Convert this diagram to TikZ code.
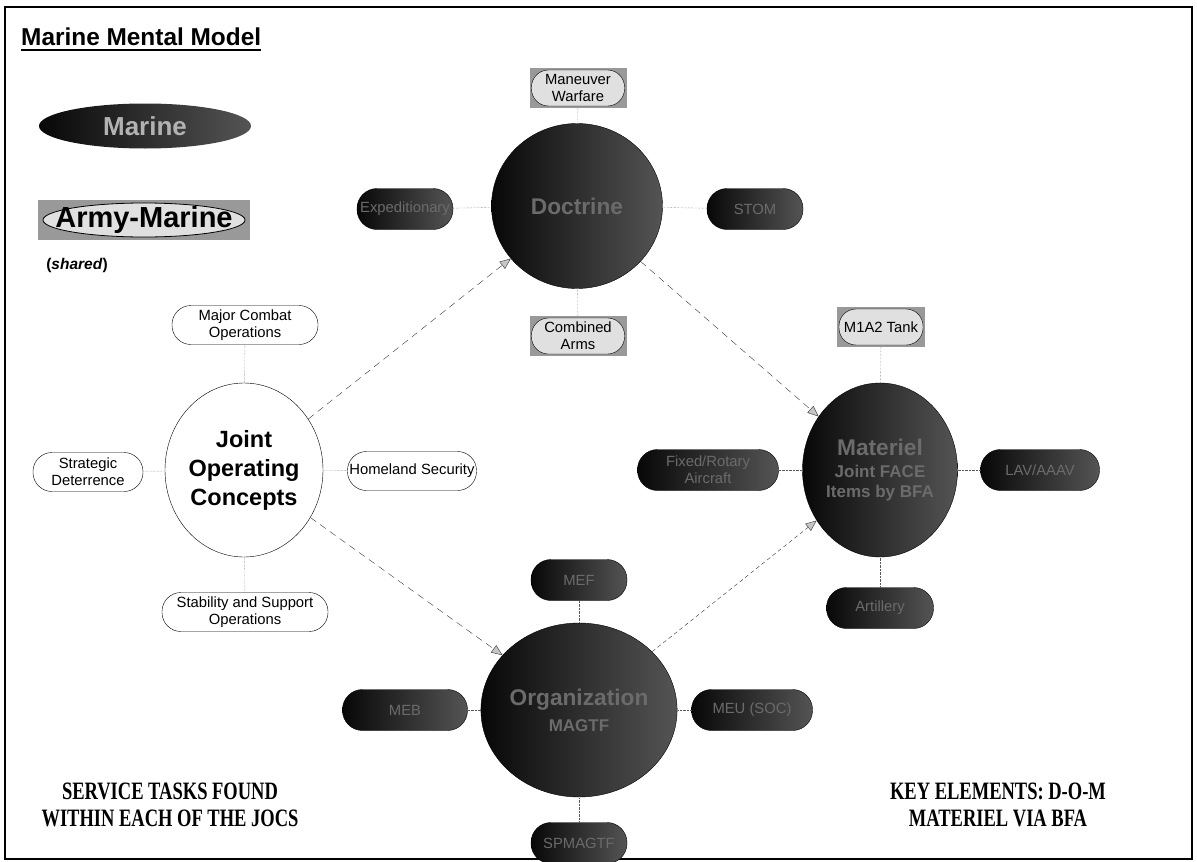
\documentclass[tikz,border=0pt]{standalone}
\usepackage{fontspec}
\setmainfont{Liberation Sans}
\newfontfamily\capserif[FakeStretch=0.74]{Liberation Serif}
\usetikzlibrary{shapes.geometric,arrows.meta}
\definecolor{cBlack}{gray}{0.03}
\definecolor{cShade}{gray}{0.33}
\definecolor{cBox}{gray}{0.6}
\definecolor{cPale}{gray}{0.88}
\definecolor{cLabel}{gray}{0.42}
\definecolor{cGray}{gray}{0.35}
\tikzset{>={Triangle[length=11pt,width=9pt,fill=gray!45]}}

\begin{document}
\begin{tikzpicture}[x=1pt, y=-1pt,
	every node/.style={font=\fontsize{14.8}{17}\selectfont, align=center},
	darkpill/.style={rectangle, rounded corners=20pt, minimum height=41pt, inner sep=2pt, left color=cBlack, right color=cShade, draw=black, text=cLabel},
	whitepill/.style={rectangle, rounded corners=19pt, minimum height=39pt, inner sep=2pt, draw=black, fill=white},
	shadebox/.style={rectangle, minimum height=40pt, inner sep=0pt, fill=cBox},
	lightpill/.style={rectangle, rounded corners=17pt, minimum height=36pt, inner sep=1pt, draw=black, fill=cPale},
	hub/.style={ellipse, inner sep=0pt, draw=black, left color=cBlack, right color=cShade, text=cLabel, font=\bfseries\fontsize{22.7}{26}\selectfont},
	tie/.style={densely dotted, draw=cGray, thin},
	flow/.style={->, draw=black!80, dash pattern=on 7pt off 5pt, thin}]
	\useasboundingbox (0,0) rectangle (1197,862);
	\draw [line width=2pt] (5,7) rectangle (1192,859);
	
	%title and legend
	\node [anchor=base west, inner sep=0pt, font=\bfseries\fontsize{24.4}{28}\selectfont] (title) at (21,45) {Marine Mental Model};
	\draw [line width=2.5pt] ([yshift=-5pt]title.base west) -- ([yshift=-5pt]title.base east);
	\node [ellipse, minimum width=212pt, minimum height=45pt, inner sep=0pt, left color=cBlack, right color=cShade, text=gray!60, font=\bfseries\fontsize{26}{28}\selectfont] (marine) at (145,126) {Marine};
	\node [shadebox, minimum width=212pt] (armybox) at (144,220) {};
	\node [ellipse, draw=black, thick, fill=cPale, minimum width=202pt, minimum height=34pt, inner sep=0pt] (armyring) at (armybox) {};
	\node [font=\bfseries\fontsize{29}{30}\selectfont, inner sep=0pt] (army) at (armyring) {Army-Marine};
	\node [font=\bfseries\fontsize{15.5}{18}\selectfont] (shared) at (77,265) {(\textit{shared})};
	
	%doctrine
	\node [hub, minimum width=171pt, minimum height=165pt] (doc) at (577,206) {Doctrine};
	\node [shadebox, minimum width=97pt] (mwbox) at (578,88) {};
	\node [lightpill, minimum width=93pt] (mw) at (mwbox) {Maneuver\\Warfare};
	\node [shadebox, minimum width=97pt] (cabox) at (578,336) {};
	\node [lightpill, minimum width=93pt] (ca) at (cabox) {Combined\\Arms};
	\node [darkpill, minimum width=96pt] (docL) at (405,209) {Expeditionary};
	\node [darkpill, minimum width=96pt] (docR) at (755,209) {STOM};
	
	%joint operating concepts
	\node [ellipse, draw=black, fill=white, inner sep=0pt, minimum width=158pt, minimum height=174pt, font=\bfseries\fontsize{23.5}{29}\selectfont] (joc) at (244,470) {Joint\\Operating\\Concepts};
	\node [whitepill, minimum width=146pt] (mco) at (245,325) {Major Combat\\Operations};
	\node [whitepill, minimum width=110pt] (sd) at (88,472) {Strategic\\Deterrence};
	\node [whitepill, minimum width=129pt] (hs) at (412,471) {Homeland Security};
	\node [whitepill, minimum width=166pt] (sso) at (245,612) {Stability and Support\\Operations};
	
	%materiel
	\node [hub, minimum width=155pt, minimum height=174pt] (mat) at (880,470) {Materiel\\[-4pt]{\fontsize{17}{20}\selectfont Joint FACE}\\[-6pt]{\fontsize{17}{20}\selectfont Items by BFA}};
	\node [shadebox, minimum width=88pt] (tankbox) at (881,327) {};
	\node [lightpill, minimum width=84pt] (tank) at (tankbox) {M1A2 Tank};
	\node [darkpill, minimum width=141pt] (matL) at (708,470) {Fixed/Rotary\\Aircraft};
	\node [darkpill, minimum width=119pt] (matR) at (1040,470) {LAV/AAAV};
	\node [darkpill, minimum width=107pt] (matB) at (880,608) {Artillery};
	
	%organization
	\node [hub, minimum width=172pt, minimum height=174pt] (org) at (579,710) {Organization\\{\fontsize{17}{20}\selectfont MAGTF}};
	\node [darkpill, minimum width=96pt] (orgT) at (579,580) {MEF};
	\node [darkpill, minimum width=125pt] (orgL) at (405,710) {MEB};
	\node [darkpill, minimum width=121pt] (orgR) at (752,710) {MEU (SOC)};
	\node [darkpill, minimum width=96pt] (orgB) at (579,843) {SPMAGTF};
	
	\foreach \a/\b in {mwbox/doc,cabox/doc,docL/doc,docR/doc,mco/joc,sd/joc,hs/joc,sso/joc,tankbox/mat,matL/mat,matR/mat,matB/mat,orgT/org,orgL/org,orgR/org,orgB/org}
	{
		\draw [tie] (\a) -- (\b);
	}
	
	\draw [flow] (joc) -- (doc);
	\draw [flow] (doc) -- (mat);
	\draw [flow] (joc) -- (org);
	\draw [flow, dash pattern=on 4pt off 3pt] (org) -- (mat);
	
	%notes
	\node [font=\capserif\bfseries\fontsize{25}{27}\selectfont] (tasks) at (170,805) {SERVICE TASKS FOUND\\WITHIN EACH OF THE JOCS};
	\node [font=\capserif\bfseries\fontsize{25}{27}\selectfont] (keys) at (998,805) {KEY ELEMENTS: D-O-M\\MATERIEL VIA BFA};
\end{tikzpicture}
\end{document}
